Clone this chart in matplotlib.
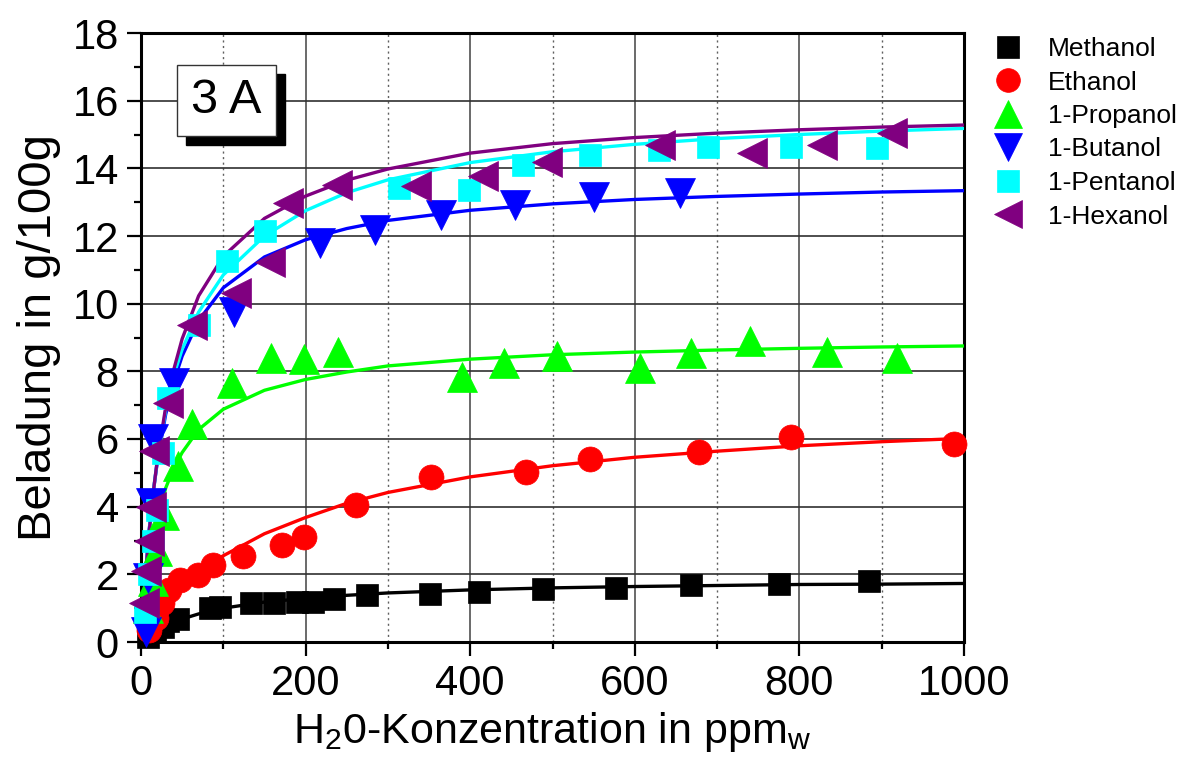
import matplotlib
matplotlib.use("Agg")
import matplotlib.pyplot as plt
from matplotlib.lines import Line2D
from matplotlib.patches import Rectangle

plt.rcParams['font.family'] = ['Liberation Sans', 'DejaVu Sans']

# ---------------- data ----------------
names = ["Methanol", "Ethanol", "1-Propanol", "1-Butanol", "1-Pentanol", "1-Hexanol"]
colors = ["#000000", "#ff0000", "#00ff00", "#0000ff", "#00ffff", "#800080"]
markers = ["s", "o", "^", "v", "s", "<"]

methanol_x = [8, 17, 27, 33, 45, 84, 96, 134, 161, 189, 209, 235, 275, 351, 411, 488, 577, 668, 775, 885]
methanol_y = [0.15, 0.3, 0.45, 0.62, 0.68, 1.0, 1.04, 1.15, 1.15, 1.18, 1.19, 1.26, 1.38, 1.42, 1.49, 1.56, 1.61, 1.68, 1.72, 1.80]

ethanol_x = [10, 18, 26, 34, 47, 69, 88, 124, 171, 198, 261, 352, 468, 545, 678, 790, 988]
ethanol_y = [0.35, 0.7, 1.15, 1.55, 1.83, 1.98, 2.29, 2.55, 2.87, 3.09, 4.05, 4.87, 5.02, 5.41, 5.61, 6.07, 5.85]

propanol_x = [8, 14, 20, 28, 45, 62, 111, 158, 198, 239, 390, 441, 505, 606, 668, 740, 834, 918]
propanol_y = [1.0, 1.8, 2.7, 3.75, 5.2, 6.45, 7.65, 8.4, 8.36, 8.56, 7.83, 8.25, 8.45, 8.09, 8.54, 8.90, 8.56, 8.38]

butanol_x = [6, 9, 12, 15, 40, 113, 217, 284, 365, 454, 550, 655]
butanol_y = [0.3, 1.9, 4.1, 6.0, 7.65, 9.76, 11.78, 12.18, 12.62, 12.92, 13.16, 13.26]

pentanol_x = [5, 10, 14, 19, 27, 33, 70, 104, 151, 313, 399, 464, 545, 629, 689, 790, 894]
pentanol_y = [0.9, 2.0, 3.0, 3.9, 5.6, 7.2, 9.37, 11.27, 12.15, 13.41, 13.36, 14.1, 14.4, 14.54, 14.64, 14.64, 14.59]

hexanol_x = [4, 6, 10, 12, 16, 33, 62, 116, 157, 179, 238, 334, 415, 493, 631, 743, 827, 913]
hexanol_y = [1.15, 2.1, 3.0, 4.0, 5.65, 7.06, 9.37, 10.31, 11.24, 12.97, 13.51, 13.48, 13.76, 14.2, 14.69, 14.45, 14.69, 15.04]

# fitted curves, values at these concentrations
fit_x = [0, 2, 5, 10, 15, 20, 30, 40, 50, 70, 100, 150, 200, 250, 300, 400, 500, 600, 700, 800, 900, 1000]
methanol_fit = [0, 0.04, 0.10, 0.19, 0.27, 0.35, 0.48, 0.58, 0.68, 0.83, 1.00, 1.18, 1.29, 1.38, 1.45, 1.54, 1.60, 1.64, 1.67, 1.70, 1.71, 1.73]
ethanol_fit = [0, 0.15, 0.30, 0.55, 0.80, 1.00, 1.30, 1.55, 1.75, 2.10, 2.55, 3.20, 3.68, 4.10, 4.42, 4.88, 5.21, 5.46, 5.64, 5.80, 5.92, 6.02]
propanol_fit = [0, 0.53, 1.21, 2.14, 2.90, 3.55, 4.55, 5.15, 5.60, 6.28, 6.88, 7.44, 7.76, 7.98, 8.16, 8.36, 8.49, 8.57, 8.63, 8.68, 8.72, 8.75]
butanol_fit = [0, 0.83, 1.89, 3.33, 4.45, 5.36, 6.73, 7.71, 8.45, 9.50, 10.47, 11.38, 11.89, 12.22, 12.46, 12.76, 12.95, 13.08, 13.17, 13.24, 13.30, 13.34]
pentanol_fit = [0, 0.75, 1.85, 3.30, 4.45, 5.40, 6.85, 7.90, 8.65, 9.75, 10.85, 12.00, 12.75, 13.28, 13.66, 14.17, 14.49, 14.71, 14.88, 15.00, 15.10, 15.18]
hexanol_fit = [0, 0.78, 1.82, 3.27, 4.44, 5.42, 6.94, 8.07, 8.96, 10.23, 11.40, 12.52, 13.18, 13.65, 13.98, 14.45, 14.73, 14.91, 15.04, 15.14, 15.22, 15.28]

xs = [methanol_x, ethanol_x, propanol_x, butanol_x, pentanol_x, hexanol_x]
ys = [methanol_y, ethanol_y, propanol_y, butanol_y, pentanol_y, hexanol_y]
fits = [methanol_fit, ethanol_fit, propanol_fit, butanol_fit, pentanol_fit, hexanol_fit]
msizes = [16, 18, 21, 21, 16, 21]

x_ticks = [0, 200, 400, 600, 800, 1000]
y_ticks = [0, 2, 4, 6, 8, 10, 12, 14, 16, 18]

# ---------------- figure ----------------
fig = plt.figure(figsize=(11.86, 7.66), dpi=100)
ax = fig.add_axes([141 / 1186, 1 - 642 / 766, (964 - 141) / 1186, (642 - 33) / 766])

ax.set_xlim(0, 1000)
ax.set_ylim(0, 18)
ax.set_xticks(x_ticks)
ax.set_yticks(y_ticks)
ax.set_xticks(list(range(100, 1000, 200)), minor=True)
ax.set_yticks(list(range(1, 18, 2)), minor=True)

ax.grid(True, which='major', axis='x', color='#505050', lw=1.2, ls='-')
ax.grid(True, which='minor', axis='x', color='#606060', lw=1.0, ls=(0, (1.5, 2.5)))
ax.grid(True, which='major', axis='y', color='#303030', lw=1.2, ls='-')
ax.set_axisbelow(True)

for s in ax.spines.values():
    s.set_linewidth(2.2)

ax.tick_params(axis='both', which='major', direction='out', length=10, width=1.6,
               labelsize=30, pad=6)
ax.tick_params(axis='both', which='minor', direction='out', length=5, width=1.6)
ax.tick_params(axis='both', which='both', top=False, right=False)

# fitted curves
for fy, c in zip(fits, colors):
    ax.plot(fit_x, fy, color=c, lw=2.4, zorder=3, solid_capstyle='round', solid_joinstyle='round')

# data points
handles = []
for x, y, c, m, ms, n in zip(xs, ys, colors, markers, msizes, names):
    ax.plot(x, y, ls='none', marker=m, ms=ms, color=c, mec=c, mew=0.5, zorder=4, clip_on=False)
    handles.append(Line2D([], [], ls='none', marker=m, ms=ms * 0.95, color=c, mec=c, mew=0.5, label=n))

ax.set_xlabel("H$\\mathregular{_2}$0-Konzentration in ppm$\\mathregular{_w}$", fontsize=31, labelpad=4)
ax.set_ylabel("Beladung in g/100g", fontsize=34, labelpad=8)

fig.legend(handles=handles, loc='upper left', bbox_to_anchor=(995 / 1186, 1 - 37 / 766),
           frameon=False, fontsize=19, handlelength=1.0, handletextpad=1.0,
           labelspacing=0.36, borderpad=0, borderaxespad=0)

# "3 A" box with shadow
bx0, by0, bw, bh = 177 / 1186, 1 - 136 / 766, 99 / 1186, 71 / 766
fig.add_artist(Rectangle((bx0 + 9 / 1186, by0 - 9 / 766), bw, bh, transform=fig.transFigure,
                         facecolor='black', edgecolor='black', zorder=10))
fig.add_artist(Rectangle((bx0, by0), bw, bh, transform=fig.transFigure,
                         facecolor='white', edgecolor='#333333', lw=1.0, zorder=11))
fig.text(bx0 + bw / 2, by0 + bh / 2, "3 A", fontsize=35, ha='center', va='center', zorder=12)

fig.savefig("out.png", dpi=100)
